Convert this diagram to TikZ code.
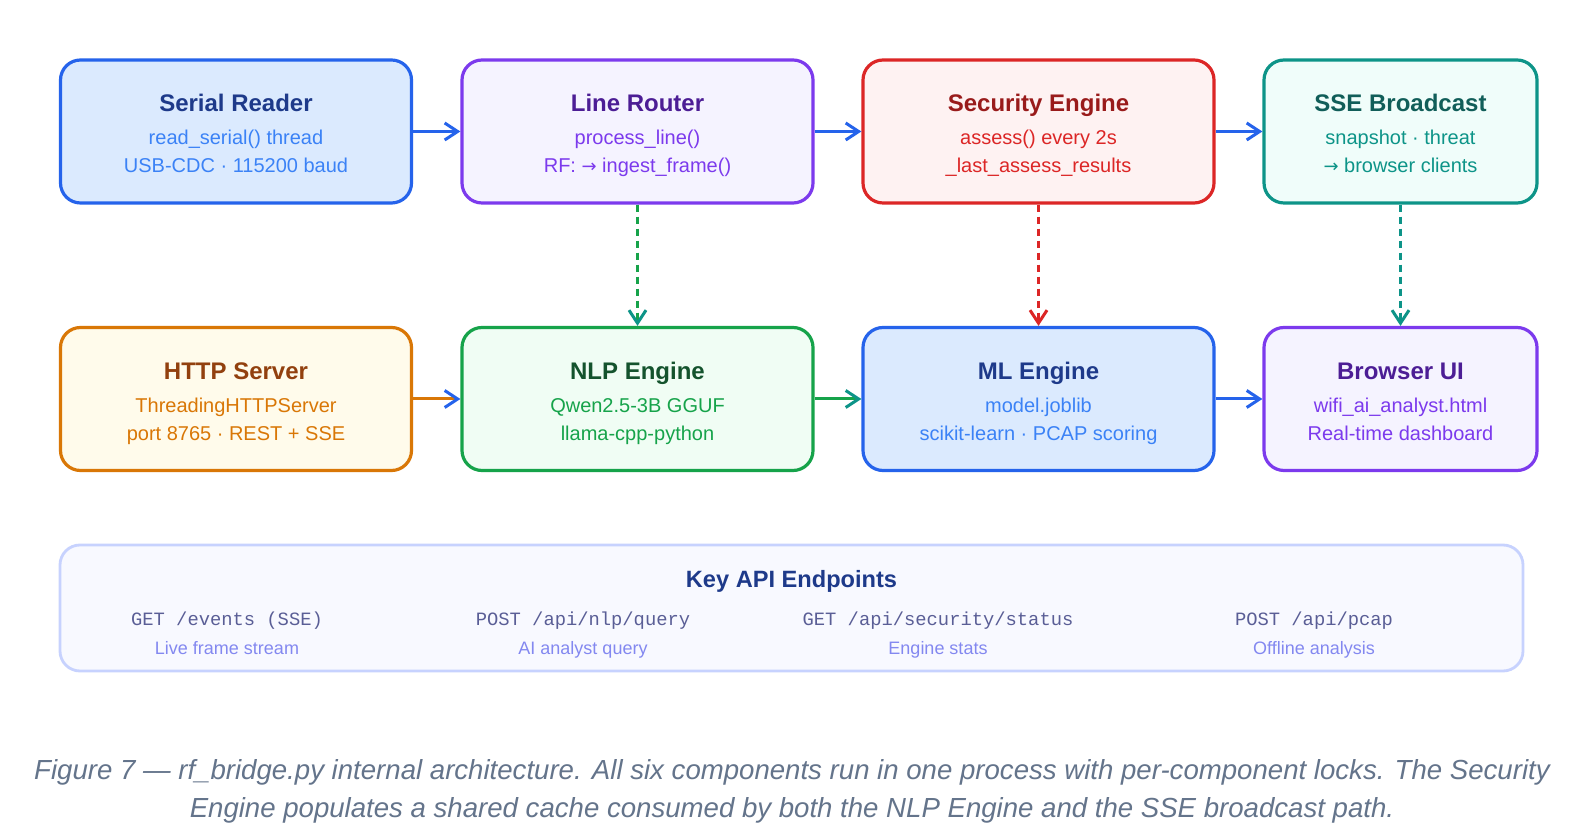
\documentclass[tikz,border=0pt]{standalone}
\usepackage{fontspec}
\setmainfont{Liberation Sans}
\setmonofont{Liberation Mono}
\newfontfamily\arrowfont{DejaVu Sans}
\usetikzlibrary{arrows.meta}

\definecolor{blueB}{HTML}{2563EB}
\definecolor{blueF}{HTML}{DBEAFE}
\definecolor{blueH}{HTML}{1E3A8A}
\definecolor{blueT}{HTML}{3B82F6}
\definecolor{purpB}{HTML}{7C3AED}
\definecolor{purpF}{HTML}{F5F3FF}
\definecolor{purpH}{HTML}{4C1D95}
\definecolor{redB}{HTML}{DC2626}
\definecolor{redF}{HTML}{FEF2F2}
\definecolor{redH}{HTML}{991B1B}
\definecolor{tealB}{HTML}{0D9488}
\definecolor{tealF}{HTML}{F0FDFA}
\definecolor{tealH}{HTML}{115E59}
\definecolor{orngB}{HTML}{D97706}
\definecolor{orngF}{HTML}{FFFBEB}
\definecolor{orngH}{HTML}{92400E}
\definecolor{grnB}{HTML}{16A34A}
\definecolor{grnF}{HTML}{F0FDF4}
\definecolor{grnH}{HTML}{14532D}
\definecolor{apiB}{HTML}{C7D2FE}
\definecolor{apiF}{HTML}{F8F9FF}
\definecolor{apiC}{HTML}{5A5E96}
\definecolor{apiD}{HTML}{8388F0}
\definecolor{capT}{HTML}{64748B}

% title line of a component box, with fixed height
\newcommand{\comptitle}[2]{\rule{0pt}{13.6pt}\textcolor{#1}{\bfseries\fontsize{12}{14}\selectfont #2}}
% fixed depth for the last line
\newcommand{\lastdp}{\rule[-3pt]{0pt}{3pt}}
\newcommand{\rarr}{{\arrowfont\fontsize{9}{14}\selectfont →}}

\begin{document}
\begin{tikzpicture}[x=0.5pt,y=-0.5pt,
    comp/.style={draw, line width=1.6pt, rounded corners=10pt, minimum width=175.5pt,
      minimum height=71.5pt, align=center, inner sep=0pt,
      font=\fontsize{10}{14}\selectfont},
    flow/.style={line width=1.5pt, -{Straight Barb[length=6.5pt,width=8.5pt,color=#1]}},
    feed/.style={flow=#1, dash pattern=on 3.5pt off 2.5pt},
    ep/.style={align=center, inner sep=0pt, font=\fontsize{9}{14.5}\selectfont}]
	\path[fill=white, use as bounding box] (0,0) rectangle (1590,838);
	% top row
	\node[comp, draw=blueB, fill=blueF, text=blueT] (serial) at (236,131.5)
		{\comptitle{blueH}{Serial Reader}\\[2.5pt] read\_serial() thread\\ USB-CDC · 115200 baud\lastdp};
	\node[comp, draw=purpB, fill=purpF, text=purpB] (router) at (637.5,131.5)
		{\comptitle{purpH}{Line Router}\\[2.5pt] process\_line()\\ RF: \rarr\ ingest\_frame()\lastdp};
	\node[comp, draw=redB, fill=redF, text=redB] (security) at (1038.5,131.5)
		{\comptitle{redH}{Security Engine}\\[2.5pt] assess() every 2s\\ \_last\_assess\_results\lastdp};
	\node[comp, draw=tealB, fill=tealF, text=tealB, minimum width=136.5pt] (sse) at (1400.5,131.5)
		{\comptitle{tealH}{SSE Broadcast}\\[2.5pt] snapshot · threat\\ \rarr\ browser clients\lastdp};
	% bottom row
	\node[comp, draw=orngB, fill=orngF, text=orngB] (http) at (236,399)
		{\comptitle{orngH}{HTTP Server}\\[2.5pt] ThreadingHTTPServer\\ port 8765 · REST + SSE\lastdp};
	\node[comp, draw=grnB, fill=grnF, text=grnB] (nlp) at (637.5,399)
		{\comptitle{grnH}{NLP Engine}\\[2.5pt] Qwen2.5-3B GGUF\\ llama-cpp-python\lastdp};
	\node[comp, draw=blueB, fill=blueF, text=blueT] (ml) at (1038.5,399)
		{\comptitle{blueH}{ML Engine}\\[2.5pt] model.joblib\\ scikit-learn · PCAP scoring\lastdp};
	\node[comp, draw=purpB, fill=purpF, text=purpB, minimum width=136.5pt] (browser) at (1400.5,399)
		{\comptitle{purpH}{Browser UI}\\[2.5pt] wifi\_ai\_analyst.html\\ Real-time dashboard\lastdp};
	% connectors
	\draw[flow=blueB, blueB] (serial) -- (router);
	\draw[flow=blueB, blueB] (router) -- (security);
	\draw[flow=blueB, blueB] (security) -- (sse);
	\draw[flow=blueB, orngB] (http) -- (nlp);
	\draw[flow=tealB, grnB] (nlp) -- (ml);
	\draw[flow=blueB, blueB] (ml) -- (browser);
	\draw[feed=tealB, grnB] (router) -- (nlp);
	\draw[feed=redB, redB] (security) -- (ml);
	\draw[feed=tealB, tealB] (sse) -- (browser);
	% endpoints
	\node[draw=apiB, fill=apiF, line width=1.4pt, rounded corners=10pt, minimum width=731.5pt,
		minimum height=63pt] (api) at (791.5,608) {};
	\node[text=blueH, font=\bfseries\fontsize{11.8}{14}\selectfont] (apititle) at (791.5,581) {Key API Endpoints};
	\node[ep] (ep1) at (227,635) {\rule{0pt}{8pt}\textcolor{apiC}{\fontsize{9.4}{14}\selectfont\ttfamily GET /events (SSE)}\\ \textcolor{apiD}{Live frame stream}\lastdp};
	\node[ep] (ep2) at (583,635) {\rule{0pt}{8pt}\textcolor{apiC}{\fontsize{9.4}{14}\selectfont\ttfamily POST /api/nlp/query}\\ \textcolor{apiD}{AI analyst query}\lastdp};
	\node[ep] (ep3) at (938,635) {\rule{0pt}{8pt}\textcolor{apiC}{\fontsize{9.4}{14}\selectfont\ttfamily GET /api/security/status}\\ \textcolor{apiD}{Engine stats}\lastdp};
	\node[ep] (ep4) at (1314,635) {\rule{0pt}{8pt}\textcolor{apiC}{\fontsize{9.4}{14}\selectfont\ttfamily POST /api/pcap}\\ \textcolor{apiD}{Offline analysis}\lastdp};
	% caption
	\node[align=center, text=capT, font=\itshape\fontsize{13.8}{19}\selectfont] (caption) at (792,791)
		{Figure 7 — rf\_bridge.py internal architecture. All six components run in one process with per-component locks. The Security\\
		Engine populates a shared cache consumed by both the NLP Engine and the SSE broadcast path.};
\end{tikzpicture}
\end{document}
